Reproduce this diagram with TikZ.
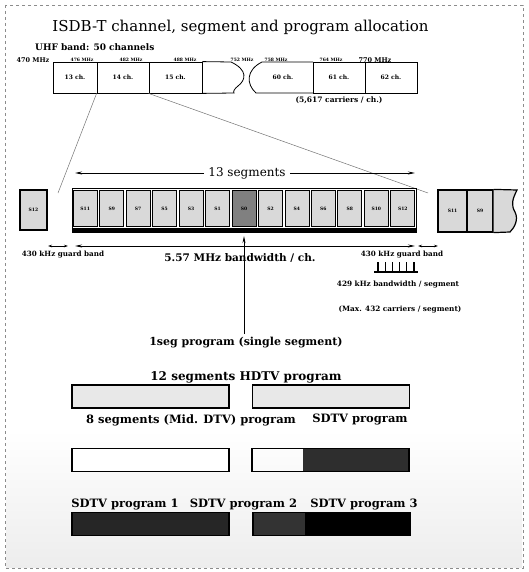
\documentclass[tikz,border=0pt]{standalone}
\usepackage{fontspec}
\setmainfont{DejaVu Serif}
\usetikzlibrary{arrows.meta}
\newcommand{\fsz}[1]{\fontsize{#1}{#1}\selectfont}
\begin{document}
\begin{tikzpicture}[x=1pt,y=-1pt,
  lbl/.style={inner sep=0pt,font=\bfseries\fsz{11.5}},
  tiny/.style={inner sep=0pt,font=\bfseries\fsz{4.5}},
  chbox/.style={draw,line width=0.8pt,minimum height=31pt,inner sep=0pt,font=\bfseries\fsz{6}},
  segbox/.style={draw,line width=0.8pt,fill=black!15,minimum width=24pt,minimum height=36pt,inner sep=0pt,font=\bfseries\fsz{4.5}},
  progbox/.style={draw,line width=1.6pt,minimum width=157pt,minimum height=23pt,inner sep=0pt},
  thinline/.style={draw=black!55,line width=0.5pt},
  arr/.style={line width=0.9pt,-{Stealth[length=7pt,width=3pt]}},
  darr/.style={line width=0.9pt,{Stealth[length=4pt,width=2.5pt]}-{Stealth[length=4pt,width=2.5pt]}}
]
\useasboundingbox (0,0) rectangle (529,572);
% background
\shade[top color=white,bottom color=black!7] (6,430) rectangle (522,567);
\draw[black!45,dashed,line width=0.6pt] (5,5) rectangle (523,568);

% title
\node[inner sep=0pt,font=\fsz{15}] (title) at (240.5,27) {ISDB-T channel, segment and program allocation};
\node[lbl,font=\bfseries\fsz{9},anchor=west] (uhf) at (35,47) {UHF band: 50 channels};

% frequency labels
\node[tiny,font=\bfseries\fsz{6.5}] (f470) at (33,60) {470 MHz};
\node[tiny] (f476) at (82,60) {476 MHz};
\node[tiny] (f482) at (131,60) {482 MHz};
\node[tiny] (f488) at (185,60) {488 MHz};
\node[tiny] (f752) at (242,60) {752 MHz};
\node[tiny] (f758) at (276,60) {758 MHz};
\node[tiny] (f764) at (331,60) {764 MHz};
\node[tiny,font=\bfseries\fsz{6.5}] (f770) at (375,60) {770 MHz};

% channel boxes
\node[chbox,minimum width=44pt] (c13) at (75,77.5) {13 ch.};
\node[chbox,minimum width=52pt] (c14) at (123,77.5) {14 ch.};
\node[chbox,minimum width=53pt] (c15) at (175.5,77.5) {15 ch.};
\draw[line width=0.8pt] (c15.north east) -- (231,62) .. controls (248,70) and (246,80) .. (238,86)
   .. controls (234,89) and (233,92) .. (234,93) -- (c15.south east);
\draw[line width=0.8pt] (313,62) -- (262,62) .. controls (246,70) and (246,84) .. (256,93) -- (313,93);
\node[inner sep=0pt,font=\bfseries\fsz{6}] (c60) at (283,77.5) {60 ch.};
\node[chbox,minimum width=52pt] (c61) at (339,77.5) {61 ch.};
\node[chbox,minimum width=52pt] (c62) at (391,77.5) {62 ch.};
\node[lbl,font=\bfseries\fsz{7.5}] (carr) at (339,100) {(5,617 carriers / ch.)};

% zoom lines
\coordinate (zl) at (58,193);
\coordinate (zr) at (428,193);
\draw[thinline] (c14.south west) -- (zl);
\draw[thinline] (c15.south west) -- (zr);

% 13 segments label
\node[inner sep=0pt,font=\fsz{12}] (t13) at (247,173) {13 segments};
\coordinate (a13l) at (75,173);
\coordinate (a13r) at (415,173);
\draw[arr] (t13.west) ++(-4,0) -- (a13l);
\draw[arr] (t13.east) ++(4,0) -- (a13r);

% segments block
\draw[line width=1pt] (72,188) rectangle (416,232);
\fill (72,228) rectangle (416,233);
\foreach \lab [count=\i from 0] in {S11,S9,S7,S5,S3,S1,S0,S2,S4,S6,S8,S10,S12}{
  \node[segbox] (seg\lab) at ({72+26.46*(\i+0.5)},208.5) {\lab};
}
\node[segbox,fill=black!50] (segS0b) at (segS0) {S0};

% stray segments
\node[segbox,line width=1.2pt,minimum width=27pt,minimum height=40pt] (lS12) at (33.5,210) {S12};
\node[segbox,line width=1.2pt,minimum width=29pt,minimum height=42pt] (rS11) at (452.5,211) {S11};
\node[segbox,line width=1.2pt,minimum width=26pt,minimum height=42pt] (rS9) at (480,211) {S9};
\filldraw[fill=black!15,line width=1.2pt] (rS9.north east) -- (517,190) .. controls (512,200) and (511,205) .. (515,212)
   .. controls (519,220) and (514,228) .. (510,232) -- (rS9.south east);

% bandwidth arrows
\coordinate (bwl) at (75,246);
\coordinate (bwr) at (415,246);
\draw[line width=0.9pt,{Stealth[length=7pt,width=3pt]}-{Stealth[length=7pt,width=3pt]}] (bwl) -- (bwr);
\coordinate (gl1) at (48,246); \coordinate (gl2) at (68,246);
\coordinate (gr1) at (418,246); \coordinate (gr2) at (438,246);
\draw[darr] (gl1) -- (gl2);
\draw[darr] (gr1) -- (gr2);
\node[lbl,font=\bfseries\fsz{10.5}] (bw) at (240,258) {5.57 MHz bandwidth / ch.};
\node[tiny,font=\bfseries\fsz{7.2}] (gbl) at (63,255) {430 kHz guard band};
\node[tiny,font=\bfseries\fsz{7.2}] (gbr) at (402,255) {430 kHz guard band};

% comb
\foreach \k in {0,...,5}{ \draw[line width=1.2pt] ({378+7.2*\k},262) -- ({378+7.2*\k},272); }
\draw[line width=1.5pt] (374,272) -- (418,272);
\node[tiny,font=\bfseries\fsz{7.3}] (segbw) at (398,285) {429 kHz bandwidth / segment};
\node[tiny,font=\bfseries\fsz{7.3}] (segcar) at (400,310) {(Max. 432 carriers / segment)};

% 1seg
\node[lbl,font=\bfseries\fsz{11}] (oneseg) at (246,343) {1seg program (single segment)};
\coordinate (v0) at (244,334);
\coordinate (v1) at (244,236);
\draw[arr] (v0) -- (v1);

% HDTV
\node[lbl,font=\bfseries\fsz{12}] (hdt) at (246,377) {12 segments HDTV program};
\node[progbox,fill=black!9] (hd1) at (150.5,396.5) {};
\node[progbox,fill=black!9] (hd2) at (331,396.5) {};

% Mid DTV + SDTV
\node[lbl] (mdt) at (191,420) {8 segments (Mid. DTV) program};
\node[lbl] (sdt) at (360,420) {SDTV program};
\node[progbox,fill=white] (md1) at (150.5,460) {};
\fill[black!82] (303,448) rectangle (409,472);
\node[progbox] (md2) at (330.5,460) {};

% 3 SDTV
\node[lbl] (sd1t) at (125,505) {SDTV program 1};
\node[lbl] (sd2t) at (243.5,505) {SDTV program 2};
\node[lbl] (sd3t) at (364,505) {SDTV program 3};
\node[progbox,fill=black!85] (sd1) at (150.5,524) {};
\fill[black!80] (253,513) rectangle (305,535);
\fill[black] (305,513) rectangle (410,535);
\node[progbox] (sd2) at (331.5,524) {};
\end{tikzpicture}
\end{document}
